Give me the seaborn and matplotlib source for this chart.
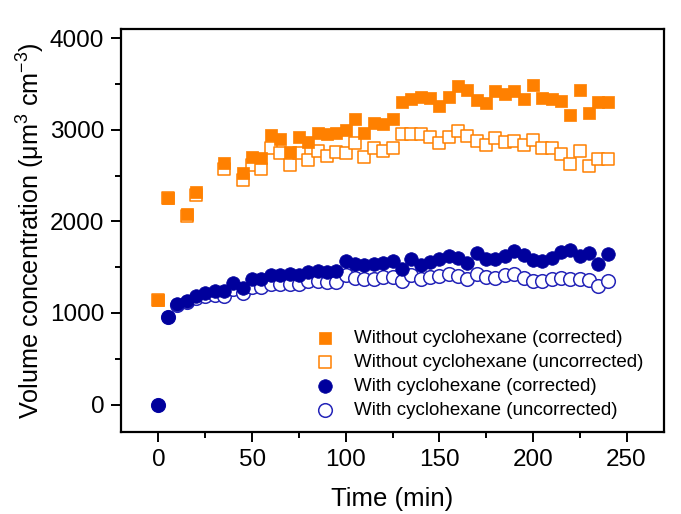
import numpy as np
import pandas as pd
import matplotlib
matplotlib.use("Agg")
import matplotlib.pyplot as plt
from matplotlib.ticker import MultipleLocator
import seaborn as sns

# ---- data ----
t_without = [0, 5, 15, 20, 35, 45, 50, 55, 60, 65, 70, 75, 80, 85, 90, 95, 100,
             105, 110, 115, 120, 125, 130, 135, 140, 145, 150, 155, 160, 165,
             170, 175, 180, 185, 190, 195, 200, 205, 210, 215, 220, 225, 230,
             235, 240]
without_corr = [1137, 2250, 2080, 2324, 2637, 2532, 2707, 2692, 2943, 2903, 2761,
                2925, 2871, 2969, 2951, 2969, 2994, 3115, 2969, 3078, 3060, 3115,
                3304, 3333, 3363, 3348, 3260, 3363, 3479, 3432, 3326, 3297, 3428,
                3388, 3421, 3333, 3490, 3348, 3333, 3311, 3158, 3432, 3188, 3304,
                3304]
without_uncorr = [1137, 2250, 2055, 2284, 2568, 2452, 2612, 2568, 2805, 2750, 2612,
                  2750, 2670, 2769, 2714, 2761, 2750, 2852, 2703, 2802, 2769, 2805,
                  2951, 2951, 2958, 2925, 2856, 2925, 2987, 2932, 2878, 2830, 2914,
                  2867, 2878, 2834, 2889, 2805, 2805, 2740, 2623, 2769, 2605, 2678,
                  2678]

t_with = [0, 5, 10, 15, 20, 25, 30, 35, 40, 45, 50, 55, 60, 65, 70, 75, 80, 85,
          90, 95, 100, 105, 110, 115, 120, 125, 130, 135, 140, 145, 150, 155, 160,
          165, 170, 175, 180, 185, 190, 195, 200, 205, 210, 215, 220, 225, 230,
          235, 240]
with_corr = [0, 951, 1093, 1129, 1184, 1220, 1239, 1239, 1330, 1275, 1366, 1373,
             1410, 1410, 1421, 1410, 1446, 1457, 1446, 1457, 1566, 1530, 1519,
             1537, 1548, 1566, 1475, 1585, 1519, 1555, 1585, 1621, 1603, 1548,
             1658, 1592, 1592, 1621, 1676, 1628, 1574, 1566, 1603, 1665, 1683,
             1621, 1650, 1530, 1639]
with_uncorr = [0, 951, 1090, 1115, 1160, 1190, 1200, 1184, 1257, 1213, 1286, 1286,
               1319, 1319, 1319, 1319, 1348, 1348, 1337, 1337, 1410, 1384, 1373,
               1373, 1395, 1395, 1348, 1410, 1373, 1395, 1402, 1421, 1402, 1373,
               1421, 1395, 1384, 1410, 1421, 1384, 1348, 1348, 1373, 1384, 1373,
               1366, 1359, 1293, 1348]

labels = ["Without cyclohexane (corrected)",
          "Without cyclohexane (uncorrected)",
          "With cyclohexane (corrected)",
          "With cyclohexane (uncorrected)"]

df_wo = pd.DataFrame({"t": t_without, "corr": without_corr, "uncorr": without_uncorr})
df_w = pd.DataFrame({"t": t_with, "corr": with_corr, "uncorr": with_uncorr})

# ---- style ----
sns.set_style("ticks")
plt.rcParams["font.family"] = ["Liberation Sans", "DejaVu Sans"]
plt.rcParams["mathtext.default"] = "regular"
for k in ["text.color", "axes.labelcolor", "xtick.color", "ytick.color",
          "xtick.labelcolor", "ytick.labelcolor"]:
    plt.rcParams[k] = "black"

orange = "#FF8000"
blue_f = "#00009C"
blue_o = "#2424B8"

fig = plt.figure(figsize=(6.81, 5.14), dpi=100)
ax = fig.add_axes([121/681, 1-432/514, (664-121)/681, (432-29)/514])

ms_sq = 8.8 ** 2
ms_ci = 9.8 ** 2

sns.scatterplot(data=df_wo, x="t", y="uncorr", ax=ax, marker="s", s=ms_sq,
                facecolors="white", edgecolors=orange, linewidths=1.1,
                label=labels[1], zorder=3)
sns.scatterplot(data=df_w, x="t", y="uncorr", ax=ax, marker="o", s=ms_ci,
                facecolors="white", edgecolors=blue_o, linewidths=1.1,
                label=labels[3], zorder=3)
sns.scatterplot(data=df_wo, x="t", y="corr", ax=ax, marker="s", s=ms_sq,
                color=orange, edgecolor=orange, linewidth=0.5,
                label=labels[0], zorder=4)
sns.scatterplot(data=df_w, x="t", y="corr", ax=ax, marker="o", s=ms_ci,
                color=blue_f, edgecolor=blue_f, linewidth=0.5,
                label=labels[2], zorder=4)

ax.set_xlim(-20, 270)
ax.set_ylim(-300, 4100)
ax.xaxis.set_major_locator(MultipleLocator(50))
ax.xaxis.set_minor_locator(MultipleLocator(25))
ax.yaxis.set_major_locator(MultipleLocator(1000))
ax.yaxis.set_minor_locator(MultipleLocator(500))

ax.tick_params(axis="both", which="major", direction="out", length=7, width=1.4,
               labelsize=17.5, color="black", pad=5)
ax.tick_params(axis="both", which="minor", direction="out", length=4, width=1.4,
               color="black")
ax.tick_params(top=False, right=False, which="both")
for sp in ax.spines.values():
    sp.set_linewidth(1.6)
    sp.set_color("black")
    sp.set_visible(True)

ax.set_xlabel("Time (min)", fontsize=18.5, labelpad=12)
ax.set_ylabel("Volume concentration (μm$^{3}$ cm$^{-3}$)", fontsize=18.2, labelpad=2)

handles, labs = ax.get_legend_handles_labels()
order = [labs.index(l) for l in labels]
ax.legend([handles[i] for i in order], [labs[i] for i in order],
          loc="upper left", bbox_to_anchor=(0.335, 0.285), frameon=False,
          fontsize=13.5, handlelength=1.0, handletextpad=1.0, labelspacing=0.36,
          borderpad=0.2)

fig.savefig("out.png", dpi=100)
